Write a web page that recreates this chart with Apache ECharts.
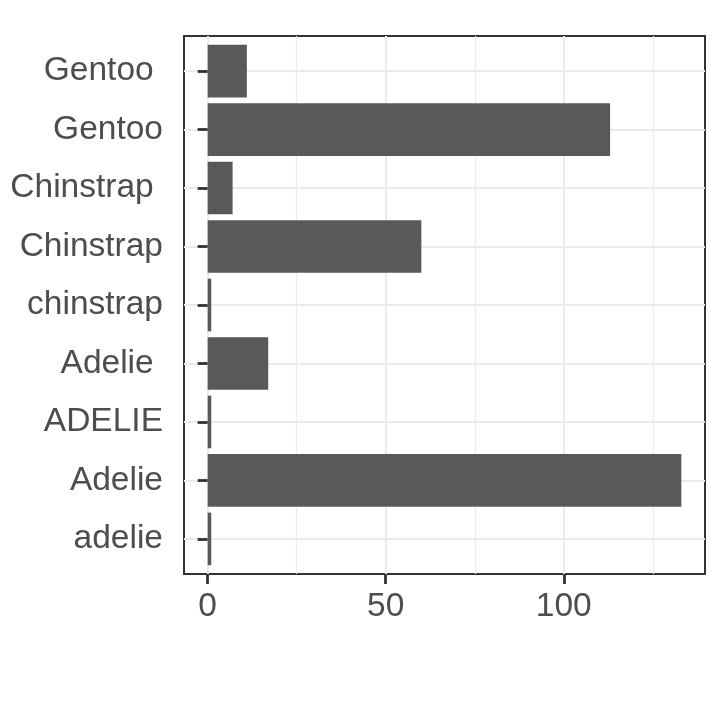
<!DOCTYPE html>
<html>
<head>
<meta charset="utf-8">
<script src="https://cdn.jsdelivr.net/npm/echarts@6/dist/echarts.min.js"></script>
<style>
html,body{margin:0;padding:0;background:#fff;}
#chart{width:717px;height:717px;}
</style>
</head>
<body>
<div id="chart"></div>
<script>
// categories from bottom to top
const categories = ['adelie', 'Adelie', 'ADELIE', 'Adelie ', 'chinstrap', 'Chinstrap', 'Chinstrap ', 'Gentoo', 'Gentoo '];
const counts = [1, 133, 1, 17, 1, 60, 7, 113, 11];
const xMajorTicks = [0, 50, 100];
const xMinorTicks = [25, 75, 125];
const xMin = -6.65;
const xMax = 139.65;

const chart = echarts.init(document.getElementById('chart'), null, {renderer: 'canvas'});
const font = "'Liberation Sans', Arial, Helvetica, sans-serif";
const panel = {left: 184, top: 36, width: 521, height: 538};
const band = panel.height / (categories.length - 1 + 1.2);
const inner = {left: panel.left, top: panel.top + 0.1 * band, width: panel.width, height: band * categories.length};

const option = {
  animation: false,
  backgroundColor: '#ffffff',
  grid: [
    {left: panel.left, top: panel.top, width: panel.width, height: panel.height,
     show: true, borderColor: '#333333', borderWidth: 2, backgroundColor: 'transparent'},
    {left: inner.left, top: inner.top, width: inner.width, height: inner.height}
  ],
  xAxis: [
    {type: 'value', gridIndex: 0, min: xMin, max: xMax, position: 'bottom',
     axisLine: {show: false},
     axisTick: {show: true, customValues: xMajorTicks, length: 10, lineStyle: {color: '#333333', width: 2.8}},
     axisLabel: {show: true, customValues: xMajorTicks, margin: 16, color: '#4D4D4D', fontSize: 33.5, fontFamily: font},
     splitLine: {show: true, lineStyle: {color: '#EBEBEB', width: 2}}},
    {type: 'value', gridIndex: 0, min: xMin, max: xMax, position: 'top',
     axisLine: {show: false},
     axisTick: {show: false, customValues: xMinorTicks},
     axisLabel: {show: false, customValues: xMinorTicks},
     splitLine: {show: true, lineStyle: {color: '#EBEBEB', width: 1.2}}},
    {type: 'value', gridIndex: 1, min: xMin, max: xMax, show: false,
     splitLine: {show: false}}
  ],
  yAxis: [
    {type: 'value', gridIndex: 0, show: false, splitLine: {show: false}},
    {type: 'category', gridIndex: 1, data: categories,
     axisLine: {show: false},
     axisTick: {show: true, alignWithLabel: true, length: 10, lineStyle: {color: '#333333', width: 2.8}},
     axisLabel: {show: true, interval: 0, margin: 21, color: '#4D4D4D', fontSize: 33.5, fontFamily: font},
     splitLine: {show: true, alignWithLabel: true, interval: 0, lineStyle: {color: '#EBEBEB', width: 2}}}
  ],
  series: [
    {type: 'bar', xAxisIndex: 2, yAxisIndex: 1, data: counts, barWidth: '90%',
     itemStyle: {color: '#595959'}, z: 3}
  ]
};
chart.setOption(option);
</script>
</body>
</html>
